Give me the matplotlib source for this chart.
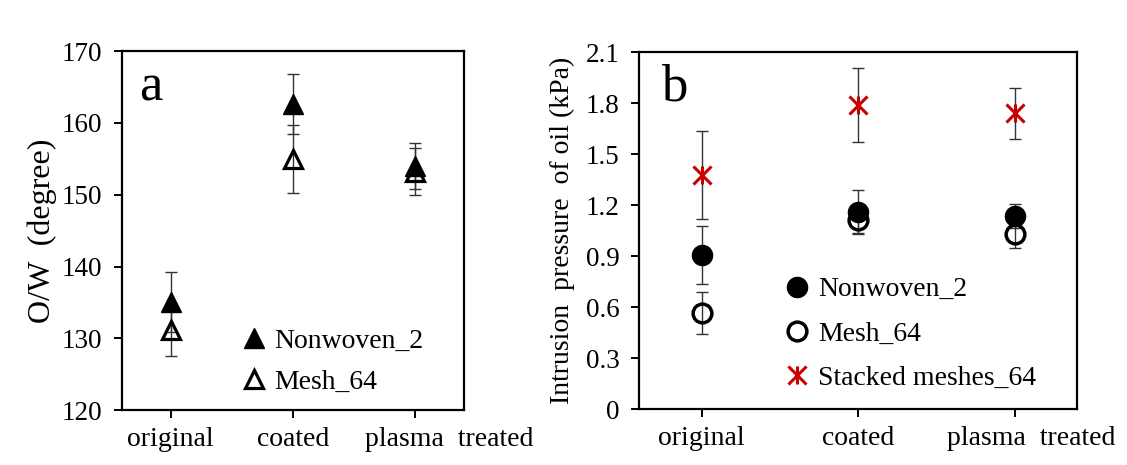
import matplotlib
matplotlib.use("Agg")
import matplotlib.pyplot as plt
import matplotlib.transforms as mtransforms
from matplotlib.path import Path
import numpy as np

plt.rcParams['font.family'] = ['Liberation Serif', 'DejaVu Serif']

categories = ['original', 'coated', 'plasma  treated']

# Panel a: O/W contact angle (degree)
a_nonwoven = [135.1, 162.6, 154.0]
a_nonwoven_err = [4.2, 4.2, 3.2]
a_mesh = [131.2, 155.0, 153.2]
a_mesh_err = [3.6, 4.7, 3.3]

# Panel b: intrusion pressure of oil (kPa)
b_nonwoven = [0.906, 1.158, 1.135]
b_nonwoven_err = [0.172, 0.13, 0.07]
b_mesh = [0.567, 1.112, 1.033]
b_mesh_err = [0.125, 0.075, 0.085]
b_stacked = [1.376, 1.789, 1.739]
b_stacked_err = [0.26, 0.22, 0.15]

a_yticks = [120, 130, 140, 150, 160, 170]
b_yticks = [0, 0.3, 0.6, 0.9, 1.2, 1.5, 1.8, 2.1]
b_yticklabels = ['0', '0.3', '0.6', '0.9', '1.2', '1.5', '1.8', '2.1']

RED = '#C80000'
ERR = '#333333'
FS = 19

asterisk = Path([(-1, -1), (1, 1), (-1, 1), (1, -1), (0, -1), (0, 1)],
                [Path.MOVETO, Path.LINETO, Path.MOVETO, Path.LINETO, Path.MOVETO, Path.LINETO])

fig = plt.figure(figsize=(11.27, 4.65), dpi=100)
ax_a = fig.add_axes([0.108, 0.118, 0.304, 0.772])
ax_b = fig.add_axes([0.567, 0.120, 0.389, 0.768])

x = np.arange(len(categories))


def style(ax, shift_px):
    for s in ax.spines.values():
        s.set_linewidth(1.6)
        s.set_color('black')
    ax.tick_params(axis='y', direction='out', length=6, width=1.4, labelsize=FS + 0.5, pad=8)
    ax.tick_params(axis='x', direction='out', length=6, width=1.4, labelsize=FS + 1, pad=6)
    ax.set_xlim(-0.4, 2.4)
    ax.set_xticks(x)
    ax.set_xticklabels(categories)
    lab = ax.get_xticklabels()[2]
    lab.set_transform(lab.get_transform() + mtransforms.ScaledTranslation(shift_px / 100, 0, fig.dpi_scale_trans))


ebkw = dict(fmt='none', ecolor=ERR, elinewidth=1.0, capsize=4, capthick=1.0, zorder=2)

# Panel a
ax_a.errorbar(x, a_nonwoven, yerr=a_nonwoven_err, **ebkw)
ax_a.errorbar(x, a_mesh, yerr=a_mesh_err, **ebkw)
ax_a.plot(x, a_nonwoven, linestyle='none', marker='^', ms=14.5, color='black', mec='black', zorder=3, label='Nonwoven_2')
ax_a.plot(x, a_mesh, linestyle='none', marker='^', ms=13.5, mfc='none', mec='black', mew=2.3, zorder=3, label='Mesh_64')
ax_a.set_ylim(120, 170)
ax_a.set_yticks(a_yticks)
ax_a.set_ylabel('O/W  (degree)', fontsize=FS + 4, labelpad=3)
style(ax_a, 34)
ax_a.text(0.05, 0.90, 'a', transform=ax_a.transAxes, fontsize=38, va='center', ha='left')
ax_a.legend(loc='lower left', bbox_to_anchor=(0.32, 0.012), frameon=False, fontsize=FS + 1,
            numpoints=1, handlelength=0.8, handletextpad=0.35, labelspacing=0.55, borderaxespad=0)

# Panel b
ax_b.errorbar(x, b_stacked, yerr=b_stacked_err, **ebkw)
ax_b.errorbar(x, b_nonwoven, yerr=b_nonwoven_err, **ebkw)
ax_b.errorbar(x, b_mesh, yerr=b_mesh_err, **ebkw)
ax_b.plot(x, b_nonwoven, linestyle='none', marker='o', ms=14.5, color='black', zorder=3, label='Nonwoven_2')
ax_b.plot(x, b_mesh, linestyle='none', marker='o', ms=13.5, mfc='none', mec='black', mew=2.5, zorder=3, label='Mesh_64')
ax_b.plot(x, b_stacked, linestyle='none', marker=asterisk, ms=13, color=RED, mew=2.2, zorder=3, label='Stacked meshes_64')
ax_b.set_ylim(0, 2.1)
ax_b.set_yticks(b_yticks)
ax_b.set_yticklabels(b_yticklabels)
ax_b.set_ylabel('Intrusion  pressure  of oil (kPa)', fontsize=FS + 1, labelpad=8)
style(ax_b, 16)
ax_b.text(0.05, 0.90, 'b', transform=ax_b.transAxes, fontsize=38, va='center', ha='left')
ax_b.legend(loc='lower left', bbox_to_anchor=(0.31, 0.02), frameon=False, fontsize=FS + 1,
            numpoints=1, handlelength=0.8, handletextpad=0.35, labelspacing=0.68, borderaxespad=0)

fig.savefig('out.png', dpi=100)
